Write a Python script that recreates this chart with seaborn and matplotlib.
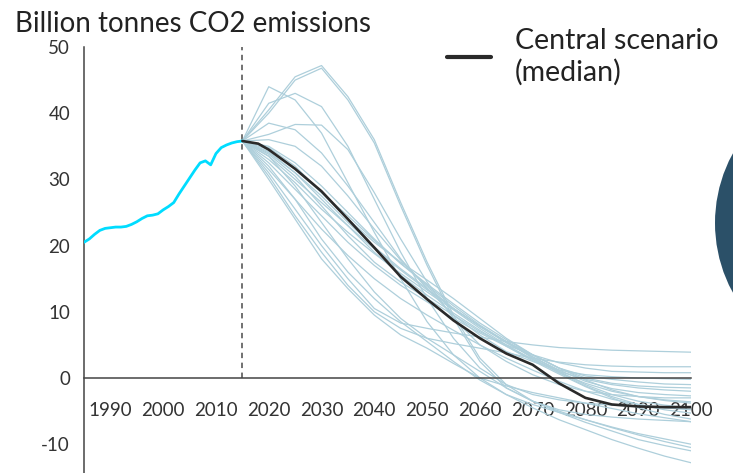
import matplotlib
matplotlib.use("Agg")
import matplotlib.pyplot as plt
from matplotlib.patches import Circle
import numpy as np
import pandas as pd
import seaborn as sns

# ---------------- data ----------------
hist_years = list(range(1985, 2016))
hist_values = [20.5, 21.0, 21.7, 22.3, 22.6, 22.7, 22.8, 22.8, 22.9, 23.2,
               23.6, 24.1, 24.5, 24.6, 24.8, 25.4, 25.9, 26.5, 27.8, 29.0,
               30.2, 31.4, 32.5, 32.8, 32.2, 33.9, 34.8, 35.2, 35.5, 35.7, 35.8]

median_years = [2015, 2018, 2020, 2025, 2030, 2035, 2040, 2045, 2050, 2055,
                2060, 2065, 2070, 2075, 2080, 2085, 2090, 2095, 2100]
median_values = [35.8, 35.4, 34.5, 31.6, 28.2, 24.0, 19.7, 15.3, 11.9, 8.7,
                 6.0, 3.7, 2.0, -0.8, -3.0, -4.0, -4.3, -4.4, -4.4]

scen_years = list(range(2015, 2101, 5))
scen_01 = [35.8, 40.0, 45.0, 46.8, 42.0, 35.5, 26.0, 17.0, 9.0, 2.5, -1.5, -3.5, -4.8, -5.5, -5.9, -6.2, -6.4, -6.6]
scen_02 = [35.8, 40.5, 45.5, 47.2, 42.5, 36.0, 26.5, 17.5, 9.5, 3.0, -1.0, -3.5, -5.0, -6.3, -7.5, -8.6, -9.6, -10.5]
scen_03 = [35.8, 44.0, 42.0, 37.0, 29.5, 22.0, 15.0, 8.5, 3.5, 0.0, -2.5, -4.5, -6.3, -7.8, -9.3, -10.6, -11.8, -12.8]
scen_04 = [35.8, 41.5, 43.0, 41.0, 35.0, 27.0, 19.0, 12.0, 6.0, 1.5, -1.0, -2.5, -3.3, -3.8, -4.1, -4.3, -4.5, -4.7]
scen_05 = [35.8, 36.8, 38.3, 38.2, 34.5, 28.0, 21.0, 14.5, 9.0, 5.0, 2.5, 0.5, -1.0, -2.0, -2.5, -2.8, -3.0, -3.0]
scen_06 = [35.8, 38.5, 37.5, 34.0, 29.0, 23.5, 18.0, 13.5, 9.5, 6.5, 4.0, 2.5, 1.2, 0.5, 0.2, 0.0, -0.1, -0.2]
scen_07 = [35.8, 31.0, 25.5, 20.0, 15.0, 10.5, 8.3, 7.5, 6.8, 6.2, 5.5, 5.0, 4.6, 4.4, 4.2, 4.1, 4.0, 3.9]
scen_08 = [35.8, 30.5, 24.5, 19.0, 14.0, 10.0, 7.5, 6.0, 5.2, 4.5, 3.8, 3.0, 2.4, 2.0, 1.8, 1.7, 1.7, 1.7]
scen_09 = [35.8, 32.0, 27.0, 21.0, 16.0, 12.0, 8.5, 5.5, 2.5, -0.3, -2.5, -4.0, -5.2, -6.3, -7.4, -8.4, -9.2, -10.0]
scen_10 = [35.8, 33.5, 29.0, 23.5, 18.0, 13.0, 9.0, 6.0, 3.5, 1.0, -1.5, -3.5, -5.2, -6.7, -8.0, -9.3, -10.2, -11.0]
scen_11 = [35.8, 34.0, 31.0, 27.5, 23.5, 19.8, 16.5, 13.5, 10.5, 7.8, 5.3, 3.2, 1.2, -0.5, -1.6, -2.2, -2.5, -2.7]
scen_12 = [35.8, 34.5, 31.5, 28.0, 24.5, 20.8, 17.3, 14.2, 11.2, 8.3, 5.8, 3.5, 1.5, -0.3, -1.8, -2.8, -3.4, -3.8]
scen_13 = [35.8, 33.5, 30.0, 26.5, 23.0, 19.5, 16.3, 13.3, 10.5, 7.8, 5.5, 3.2, 1.0, -1.0, -2.5, -3.5, -4.1, -4.5]
scen_14 = [35.8, 35.0, 32.5, 29.0, 25.0, 21.0, 17.3, 14.0, 10.9, 8.0, 5.5, 3.0, 0.8, -1.2, -2.8, -4.0, -4.8, -5.3]
scen_15 = [35.8, 33.0, 29.5, 25.5, 22.0, 18.8, 15.8, 13.0, 10.3, 7.5, 5.0, 2.8, 0.8, -0.8, -2.0, -2.8, -3.3, -3.6]
scen_16 = [35.8, 34.2, 31.0, 27.0, 23.0, 19.0, 15.5, 12.5, 9.8, 7.2, 4.8, 2.6, 0.6, -1.3, -3.0, -4.5, -5.5, -6.2]
scen_17 = [35.8, 32.5, 28.5, 24.5, 20.5, 17.0, 14.0, 11.5, 9.0, 6.8, 4.8, 2.8, 1.0, -0.2, -1.0, -1.5, -1.8, -2.0]
scen_18 = [35.8, 34.8, 32.0, 28.0, 24.0, 20.5, 17.5, 14.8, 12.0, 9.0, 6.0, 3.5, 1.5, 0.3, -0.2, -0.6, -0.9, -1.0]
scen_19 = [35.8, 33.8, 30.5, 26.0, 21.5, 17.5, 14.5, 12.0, 9.5, 7.0, 5.0, 3.5, 2.3, 1.5, 1.0, 0.9, 0.8, 0.8]
scen_20 = [35.8, 31.5, 27.0, 22.5, 18.5, 15.0, 12.0, 9.5, 7.2, 5.0, 3.0, 1.2, -0.5, -2.0, -3.2, -4.0, -4.5, -4.8]
scen_21 = [35.8, 36.0, 35.0, 32.0, 27.5, 22.5, 17.8, 13.8, 10.5, 7.8, 5.5, 3.5, 1.5, 0.0, -0.8, -1.2, -1.4, -1.5]
scen_22 = [35.8, 30.0, 24.0, 18.0, 13.5, 9.5, 6.5, 4.5, 2.2, 0.0, -1.2, -2.2, -3.0, -3.8, -4.6, -5.4, -6.0, -6.6]

scenarios = [scen_01, scen_02, scen_03, scen_04, scen_05, scen_06, scen_07, scen_08,
             scen_09, scen_10, scen_11, scen_12, scen_13, scen_14, scen_15, scen_16,
             scen_17, scen_18, scen_19, scen_20, scen_21, scen_22]

x_ticks = list(range(1990, 2101, 10))
y_ticks = [-10, 0, 10, 20, 30, 40, 50]

title_text = "Billion tonnes CO2 emissions"
legend_text = "Central scenario\n(median)"

# ---------------- style ----------------
sns.set_style("white")
plt.rcParams["font.family"] = ["Lato", "DejaVu Sans"]

W, H = 733, 473
fig = plt.figure(figsize=(W / 100, H / 100), dpi=100)
ax = fig.add_axes([84 / W, 0, (691 - 84) / W, (473 - 47) / H])

scen_df = pd.DataFrame(
    [(i, y, v) for i, s in enumerate(scenarios) for y, v in zip(scen_years, s)],
    columns=["scenario", "year", "value"],
)
hist_df = pd.DataFrame({"year": hist_years, "value": hist_values})
med_df = pd.DataFrame({"year": median_years, "value": median_values})

# vertical dashed line at the base year
ax.plot([2015, 2015], [0, 50], color="#666666", lw=1.3, ls=(0, (3, 2.5)), zorder=1.6)

sns.lineplot(data=scen_df, x="year", y="value", units="scenario", estimator=None,
             color="#aecfdb", lw=0.9, ax=ax, zorder=2)
sns.lineplot(data=hist_df, x="year", y="value", color="#00dcff", lw=2.0, ax=ax, zorder=3)
sns.lineplot(data=med_df, x="year", y="value", color="#2a2a2a", lw=1.9, ax=ax, zorder=4,
             label=legend_text)

ax.set_xlim(1985, 2100)
ax.set_ylim(-14.35, 50)
ax.set_xlabel("")
ax.set_ylabel("")
ax.set_xticks(x_ticks)
ax.set_yticks(y_ticks)
ax.set_yticklabels([str(t) for t in y_ticks])

for s in ["top", "right"]:
    ax.spines[s].set_visible(False)
ax.spines["bottom"].set_position(("data", 0))
for s in ["bottom", "left"]:
    ax.spines[s].set_color("#444444")
    ax.spines[s].set_linewidth(1.1)

ax.tick_params(axis="x", direction="out", length=5, width=1.0, color="#444444",
               pad=12, labelsize=13.5, labelcolor="#333333")
ax.tick_params(axis="y", direction="out", length=5, width=1.0, color="#444444",
               pad=5, labelsize=13.5, labelcolor="#333333")
ax.set_axisbelow(True)
ax.patch.set_alpha(0)

leg = ax.legend(loc="upper left", bbox_to_anchor=(447 / W, 1 - 28 / H),
                bbox_transform=fig.transFigure, frameon=False, fontsize=20.5,
                handlelength=1.55, handletextpad=0.83, borderpad=0, borderaxespad=0,
                labelcolor="#222222")
for h in leg.get_lines():
    h.set_linewidth(3)

fig.text(15 / W, 1 - 32 / H, title_text, fontsize=20, color="#222222",
         va="baseline", ha="left")

circ = Circle((8.60, 4.73 - 2.23), 1.45, transform=fig.dpi_scale_trans,
              facecolor="#2b5068", edgecolor="none")
fig.patches.append(circ)

fig.savefig("out.png", dpi=100)
